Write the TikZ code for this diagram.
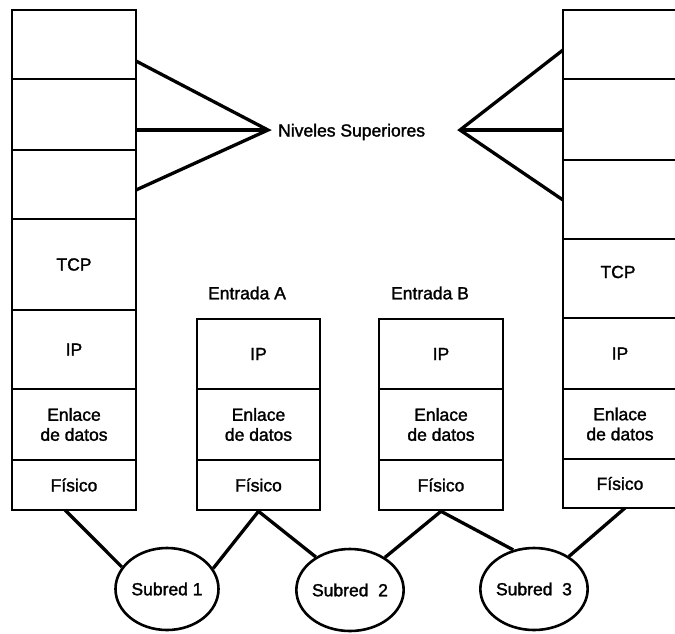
\documentclass[tikz,border=0pt]{standalone}
\usepackage{fontspec}
\setmainfont[FakeBold=1.6]{Liberation Sans}
\usetikzlibrary{shapes.geometric}
\begin{document}
\begin{tikzpicture}[x=1pt,y=-1pt,
  layer/.style={draw, line width=2.6pt, inner sep=0pt, align=center,
    font=\fontsize{17.5}{20}\selectfont},
  label/.style={inner sep=0pt, font=\fontsize{17.5}{20}\selectfont},
  net/.style={draw, ellipse, line width=2.6pt, minimum width=103pt,
    minimum height=82pt, inner sep=0pt, font=\fontsize{17.5}{20}\selectfont},
  link/.style={line width=3.3pt}]
\clip (0,0) rectangle (675,633);
\fill[white] (0,0) rectangle (675,633);

% host on the left
\node[layer, minimum width=124pt, minimum height=69pt] (L1) at (74,44.5) {};
\node[layer, minimum width=124pt, minimum height=71pt] (L2) at (74,114.5) {};
\node[layer, minimum width=124pt, minimum height=69pt] (L3) at (74,184.5) {};
\node[layer, minimum width=124pt, minimum height=91pt] (Ltcp) at (74,264.5) {TCP};
\node[layer, minimum width=124pt, minimum height=79pt] (Lip) at (74,349.5) {IP};
\node[layer, minimum width=124pt, minimum height=71pt] (Lenl) at (74,424.5) {Enlace\\de datos};
\node[layer, minimum width=124pt, minimum height=50pt] (Lfis) at (74,485) {Físico};

% gateway A
\node[label] (Atitle) at (247,293) {Entrada A};
\node[layer, minimum width=123pt, minimum height=70pt] (Aip) at (258.5,354) {IP};
\node[layer, minimum width=123pt, minimum height=71pt] (Aenl) at (258.5,424.5) {Enlace\\de datos};
\node[layer, minimum width=123pt, minimum height=50pt] (Afis) at (258.5,485) {Físico};

% gateway B
\node[label] (Btitle) at (430,293) {Entrada B};
\node[layer, minimum width=124pt, minimum height=70pt] (Bip) at (441,354) {IP};
\node[layer, minimum width=124pt, minimum height=71pt] (Benl) at (441,424.5) {Enlace\\de datos};
\node[layer, minimum width=124pt, minimum height=50pt] (Bfis) at (441,485) {Físico};

% host on the right
\node[layer, minimum width=114pt, minimum height=69pt] (R1) at (620,44.5) {};
\node[layer, minimum width=114pt, minimum height=81pt] (R2) at (620,119.5) {};
\node[layer, minimum width=114pt, minimum height=79pt] (R3) at (620,199.5) {};
\node[layer, minimum width=114pt, minimum height=79pt] (Rtcp) at (620,278.5) {};
\node[label] (RtcpText) at (618,272) {TCP};
\node[layer, minimum width=114pt, minimum height=71pt] (Rip) at (620,353.5) {IP};
\node[layer, minimum width=114pt, minimum height=70pt] (Renl) at (620,424) {Enlace\\de datos};
\node[layer, minimum width=114pt, minimum height=49pt] (Rfis) at (620,483.5) {Físico};

% upper layers
\node[label, anchor=west] (upper) at (278,132) {Niveles Superiores};
\coordinate (apexL) at (268,130);
\coordinate (apexR) at (460,130);
\coordinate (La) at (136,61);
\coordinate (Lb) at (136,130);
\coordinate (Lc) at (136,190);
\coordinate (Ra) at (563,50);
\coordinate (Rb) at (563,130);
\coordinate (Rc) at (563,200);
\draw[link, line join=miter] (La) -- (apexL) -- (Lc);
\draw[link] (Lb) -- (apexL);
\draw[link, line join=miter] (Ra) -- (apexR) -- (Rc);
\draw[link] (Rb) -- (apexR);

% subnetworks
\node[net] (S1) at (167,589) {Subred 1};
\node[net] (S2) at (350,590) {Subred\ \ 2};
\node[net] (S3) at (534,589) {Subred\ \ 3};

\coordinate (Lfoot) at (65,510);
\coordinate (Rfoot) at (625,508);
\draw[link] (Lfoot) -- (S1.154);
\draw[link] (Afis.south) -- (S1.24);
\draw[link] (Afis.south) -- (S2.136);
\draw[link] (Bfis.south) -- (S2.43);
\draw[link] (Bfis.south) -- (S3.118);
\draw[link] (Rfoot) -- (S3.43);
\end{tikzpicture}
\end{document}
